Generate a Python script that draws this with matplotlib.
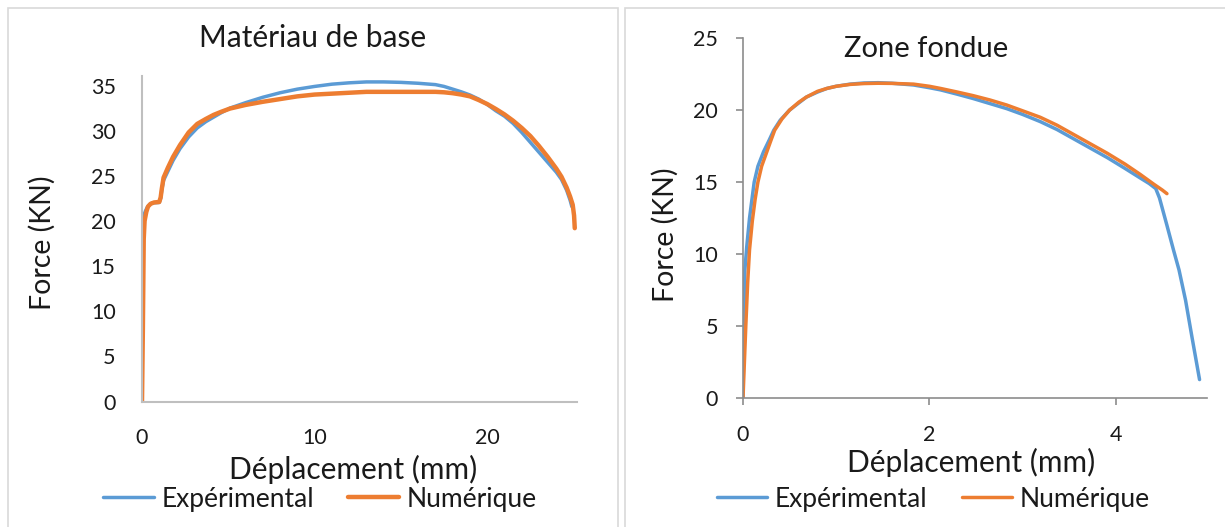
import matplotlib
matplotlib.use("Agg")
import matplotlib.pyplot as plt
from matplotlib.patches import Rectangle

plt.rcParams['font.family'] = ['Lato', 'DejaVu Sans']

# Matériau de base
base_exp_x = [0, 0.02, 0.05, 0.1, 0.2, 0.3, 0.45, 0.6, 1.0, 1.08, 1.15, 1.25, 1.5, 1.8, 2.2, 2.7,
              3.2, 3.7, 4.15, 4.6, 5.1, 6.0, 7.0, 8.0, 9.0, 10, 11, 12, 13, 14, 15, 16, 17, 17.5,
              18, 18.5, 19, 19.5, 20, 20.5, 21, 21.5, 22, 22.5, 23, 23.5, 24, 24.3, 24.6, 24.8,
              24.9]
base_exp_y = [0, 17, 20, 20.6, 21.1, 21.5, 21.85, 22.0, 22.05, 22.5, 23.5, 24.5, 25.5, 26.7, 28.0,
              29.3, 30.3, 31.0, 31.5, 32.0, 32.5, 33.1, 33.7, 34.2, 34.6, 34.9, 35.15, 35.3, 35.4,
              35.4, 35.35, 35.25, 35.1, 34.9, 34.6, 34.3, 33.95, 33.5, 32.9, 32.2, 31.6, 30.8,
              29.8, 28.7, 27.6, 26.5, 25.4, 24.6, 23.4, 22.3, 21.6]
base_num_x = [0, 0.05, 0.08, 0.1, 0.15, 0.25, 0.35, 0.5, 0.7, 1.0, 1.08, 1.15, 1.25, 1.5, 1.8, 2.2,
              2.7, 3.2, 3.7, 4.15, 4.6, 5.1, 6, 7, 8, 9, 10, 11, 12, 13, 14, 15, 16, 17, 17.5, 18,
              18.5, 19, 19.5, 20, 20.5, 21, 21.5, 22, 22.5, 23, 23.5, 24, 24.3, 24.6, 24.8, 24.95,
              25.03, 25.07]
base_num_y = [0, 8, 14, 18, 20, 21, 21.6, 21.9, 22.05, 22.1, 22.6, 23.6, 24.8, 25.9, 27.1, 28.4,
              29.8, 30.75, 31.3, 31.75, 32.1, 32.45, 32.85, 33.2, 33.5, 33.8, 34.0, 34.1, 34.2, 34.3,
              34.3, 34.3, 34.3, 34.3, 34.25, 34.15, 34.0, 33.8, 33.4, 32.95, 32.4, 31.8, 31.1, 30.3,
              29.4, 28.3, 27.1, 25.8, 24.9, 23.7, 22.7, 21.8, 20.6, 19.2]

# Zone fondue
zf_exp_x = [0, 0.01, 0.02, 0.04, 0.07, 0.09, 0.12, 0.16, 0.22, 0.28, 0.33, 0.4, 0.5, 0.6, 0.68,
            0.8, 0.9, 1.0, 1.15, 1.3, 1.45, 1.6, 1.83, 2.0, 2.12, 2.3, 2.47, 2.65, 2.83, 3.0,
            3.19, 3.37, 3.55, 3.73, 3.91, 4.1, 4.26, 4.36, 4.43, 4.47, 4.55, 4.62, 4.68, 4.75,
            4.82, 4.9]
zf_exp_y = [0, 5, 8.9, 10.5, 12.5, 13.5, 15, 16.1, 17.1, 17.9, 18.6, 19.3, 20.0, 20.5, 20.9,
            21.25, 21.5, 21.65, 21.8, 21.88, 21.9, 21.86, 21.74, 21.55, 21.4, 21.1, 20.8, 20.45,
            20.1, 19.7, 19.2, 18.65, 18.0, 17.35, 16.7, 15.95, 15.3, 14.9, 14.55, 13.9, 12.0,
            10.3, 8.9, 6.8, 4.2, 1.3]
zf_num_x = [0, 0.03, 0.05, 0.07, 0.1, 0.13, 0.16, 0.2, 0.25, 0.3, 0.34, 0.42, 0.5, 0.6, 0.68,
            0.8, 0.9, 1.0, 1.15, 1.3, 1.45, 1.6, 1.83, 2.0, 2.12, 2.3, 2.47, 2.65, 2.83, 3.0,
            3.19, 3.37, 3.55, 3.73, 3.91, 4.1, 4.26, 4.41, 4.5, 4.55]
zf_num_y = [0, 5, 8, 10.3, 12.3, 13.8, 15.0, 16.1, 17.0, 17.9, 18.6, 19.4, 20.0, 20.55, 20.9,
            21.3, 21.5, 21.65, 21.78, 21.84, 21.86, 21.85, 21.8, 21.65, 21.5, 21.25, 21.0, 20.7,
            20.35, 19.95, 19.5, 18.95, 18.3, 17.65, 17.0, 16.25, 15.55, 14.85, 14.45, 14.2]

labels = ['Expérimental', 'Numérique']
blue = '#5B9BD5'
orange = '#ED7D31'
txt = '#1A1A1A'

fig = plt.figure(figsize=(12.25, 5.27), dpi=100)

# panel frames
fig.patches.append(Rectangle((8 / 1225, -0.1), 610 / 1225, 1.085, transform=fig.transFigure,
                             fill=False, edgecolor='#D9D9D9', lw=1.2))
fig.patches.append(Rectangle((625 / 1225, -0.1), 0.6, 1.085, transform=fig.transFigure,
                             fill=False, edgecolor='#D9D9D9', lw=1.2))

# ---- left
ax1 = fig.add_axes([142 / 1225, 1 - 401.5 / 527, 435 / 1225, 325.9 / 527])
l1, = ax1.plot(base_exp_x, base_exp_y, color=blue, lw=2.5, solid_capstyle='round',
               solid_joinstyle='round')
l2, = ax1.plot(base_num_x, base_num_y, color=orange, lw=3.2, solid_capstyle='round',
               solid_joinstyle='round')
ax1.set_xlim(0, 25.2)
ax1.set_ylim(0, 36.1)
ax1.set_xticks([0, 10, 20])
ax1.set_yticks(range(0, 36, 5))
for s in ['top', 'right']:
    ax1.spines[s].set_visible(False)
for s in ['left', 'bottom']:
    ax1.spines[s].set_color('#BFBFBF')
    ax1.spines[s].set_linewidth(1.5)
ax1.tick_params(axis='both', length=0, labelsize=15.5, labelcolor=txt)
ax1.tick_params(axis='y', pad=19)
ax1.tick_params(axis='x', pad=19)
ax1.set_xlabel('Déplacement (mm)', fontsize=21.5, va='center', color=txt)
ax1.xaxis.set_label_coords(0.486, -0.21)
ax1.set_ylabel('Force (KN)', fontsize=20.5, va='center', color=txt)
ax1.yaxis.set_label_coords(-0.23, 0.486)
ax1.text(0.393, 1.115, 'Matériau de base', transform=ax1.transAxes, fontsize=21.5,
         ha='center', va='center', color=txt)
lg1 = ax1.legend([l1, l2], labels, loc='center', bbox_to_anchor=(320 / 1225, 1 - 499 / 527),
                 bbox_transform=fig.transFigure, ncol=2, frameon=False, fontsize=19,
                 handlelength=1.9, handletextpad=0.3, columnspacing=1.3)
for t in lg1.get_texts():
    t.set_color(txt)

# ---- right
ax2 = fig.add_axes([743 / 1225, 1 - 398.3 / 527, 464 / 1225, 360.3 / 527])
r1, = ax2.plot(zf_exp_x, zf_exp_y, color=blue, lw=2.5, solid_capstyle='round',
               solid_joinstyle='round')
r2, = ax2.plot(zf_num_x, zf_num_y, color=orange, lw=2.5, solid_capstyle='round',
               solid_joinstyle='round')
ax2.set_xlim(0, 4.98)
ax2.set_ylim(0, 25)
ax2.set_xticks([0, 2, 4])
ax2.set_yticks(range(0, 26, 5))
for s in ['top', 'right']:
    ax2.spines[s].set_visible(False)
for s in ['left', 'bottom']:
    ax2.spines[s].set_color('#8C8C8C')
    ax2.spines[s].set_linewidth(1.2)
ax2.tick_params(axis='both', direction='out', length=5, width=1.2, color='#8C8C8C',
                labelsize=15.5, labelcolor=txt)
ax2.tick_params(axis='y', pad=13)
ax2.tick_params(axis='x', pad=14)
ax2.set_xlabel('Déplacement (mm)', fontsize=21.5, va='center', color=txt)
ax2.xaxis.set_label_coords(0.491, -0.177)
ax2.set_ylabel('Force (KN)', fontsize=20.5, va='center', color=txt)
ax2.yaxis.set_label_coords(-0.168, 0.453)
ax2.text(0.394, 0.970, 'Zone fondue', transform=ax2.transAxes, fontsize=21,
         ha='center', va='center', color=txt)
lg2 = ax2.legend([r1, r2], labels, loc='center', bbox_to_anchor=(933.5 / 1225, 1 - 499 / 527),
                 bbox_transform=fig.transFigure, ncol=2, frameon=False, fontsize=19,
                 handlelength=1.9, handletextpad=0.3, columnspacing=1.3)
for t in lg2.get_texts():
    t.set_color(txt)

fig.savefig('out.png', dpi=100)
